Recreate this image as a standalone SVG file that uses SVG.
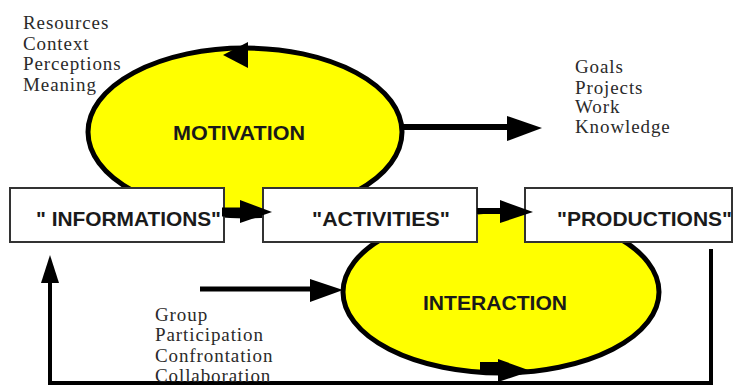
<svg xmlns="http://www.w3.org/2000/svg" width="734" height="385" viewBox="0 0 734 385">
<style>
.cycle{fill:#ffff00;stroke:#000;stroke-width:5}
.box{fill:#fff;stroke:#333;stroke-width:2}
.lbl{font-family:"Liberation Sans",Arial,sans-serif;font-weight:bold;font-size:21px;fill:#1a1a1a}
.txt{font-family:"Liberation Serif","Times New Roman",serif;font-size:19px;letter-spacing:0.9px;fill:#2a2a2a}
.ln{stroke:#000;fill:none}
.head{fill:#000}
</style>
<rect width="734" height="385" fill="#fff"/>
<g id="motivation">
<ellipse class="cycle" cx="245" cy="132" rx="157" ry="84"/>
<text class="lbl" x="173" y="140" font-size="18" textLength="132" lengthAdjust="spacingAndGlyphs">MOTIVATION</text>
</g>
<g id="interaction">
<ellipse class="cycle" cx="501" cy="292" rx="158" ry="81"/>
<text class="lbl" x="423" y="310" textLength="144" lengthAdjust="spacingAndGlyphs">INTERACTION</text>
</g>
<g id="informations">
<rect class="box" x="10" y="188" width="214" height="54"/>
<text class="lbl" x="36" y="226" textLength="185" lengthAdjust="spacingAndGlyphs">" INFORMATIONS"</text>
</g>
<g id="activities">
<rect class="box" x="263" y="188" width="214" height="54"/>
<text class="lbl" x="312" y="226" textLength="138" lengthAdjust="spacingAndGlyphs">"ACTIVITIES"</text>
</g>
<g id="productions">
<rect class="box" x="525" y="188" width="207" height="54"/>
<text class="lbl" x="557" y="226" textLength="175" lengthAdjust="spacingAndGlyphs">"PRODUCTIONS"</text>
</g>
<g id="connectors">
<polygon class="head" points="223,55 248,42 248,68"/>
<line class="ln" x1="222" y1="212" x2="242" y2="212" stroke-width="9"/>
<polygon class="head" points="240,200 272,212 240,223"/>
<line class="ln" x1="477" y1="211" x2="502" y2="211" stroke-width="6"/>
<polygon class="head" points="500,200 533,212 500,223"/>
<line class="ln" x1="403" y1="127" x2="510" y2="127" stroke-width="6"/>
<polygon class="head" points="507,116 542,128 507,141"/>
<line class="ln" x1="200" y1="289" x2="312" y2="289" stroke-width="5"/>
<polygon class="head" points="310,279 343,290 310,302"/>
<rect class="head" x="480" y="362" width="20" height="10"/>
<polygon class="head" points="498,359 531,371 498,382"/>
<polyline class="ln" points="711,249 711,383 50,383 50,280" stroke-width="4"/>
<polygon class="head" points="41,283 50,255 59,283"/>
</g>
<g id="labels">
<text class="txt" x="23" y="29">Resources</text>
<text class="txt" x="23" y="49.5">Context</text>
<text class="txt" x="23" y="70">Perceptions</text>
<text class="txt" x="23" y="90.5">Meaning</text>
<text class="txt" x="575" y="73">Goals</text>
<text class="txt" x="575" y="93.5">Projects</text>
<text class="txt" x="575" y="113">Work</text>
<text class="txt" x="575" y="133">Knowledge</text>
<text class="txt" x="155" y="321">Group</text>
<text class="txt" x="155" y="341">Participation</text>
<text class="txt" x="155" y="362">Confrontation</text>
<text class="txt" x="155" y="382">Collaboration</text>
</g>
</svg>
